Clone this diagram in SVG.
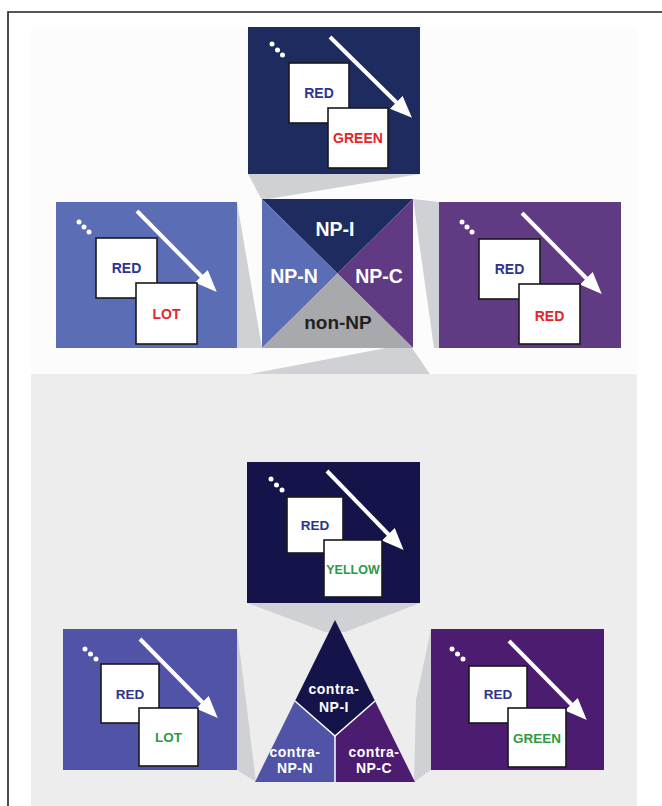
<svg xmlns="http://www.w3.org/2000/svg" width="662" height="806" viewBox="0 0 662 806">
<style>
.card{fill:#fff;stroke:#1a1a1a;stroke-width:1.6}
.w1{font-family:"Liberation Sans",Arial,sans-serif;font-weight:bold;font-size:14px;fill:#2b3590;text-anchor:middle}
.w2r{font-family:"Liberation Sans",Arial,sans-serif;font-weight:bold;font-size:14px;fill:#e3262b;text-anchor:middle}
.w2g{font-family:"Liberation Sans",Arial,sans-serif;font-weight:bold;font-size:13.5px;fill:#2e9a42;text-anchor:middle}
.arr{stroke:#fff;stroke-width:4;fill:none;marker-end:url(#ah)}
.dot{fill:#fff}
.lab{font-family:"Liberation Sans",Arial,sans-serif;font-weight:bold;font-size:19.5px;fill:#fff;text-anchor:middle}
.tlab{font-family:"Liberation Sans",Arial,sans-serif;font-weight:bold;font-size:14px;fill:#fff;text-anchor:middle;letter-spacing:0.5px}
.beam{fill:#d0d1d5}
</style>
<defs>
<marker id="ah" markerUnits="userSpaceOnUse" markerWidth="24" markerHeight="20" refX="1" refY="9" orient="auto">
<path d="M0,0 L22,9 L0,18 z" fill="#fff"/>
</marker>
</defs>
<rect x="0" y="0" width="662" height="806" fill="#fff"/>
<rect x="31" y="27" width="606" height="347" fill="#fcfcfc"/>
<rect x="31" y="374" width="606" height="432" fill="#ededed"/>
<path d="M8,806 L8,12 L662,12" fill="none" stroke="#231f20" stroke-width="1.6"/>

<g id="connectors">
<polygon class="beam" points="248,174 420,174 262,200"/>
<polygon class="beam" points="237,202 237,348 262,348"/>
<polygon class="beam" points="413,199 439,202 439,348 434,348"/>
<polygon class="beam" points="250,374 430,374 412,348 386,348"/>
<polygon class="beam" points="247,603 420,603 345,632 325,632"/>
<polygon class="beam" points="237,629 256,782 237,770"/>
<polygon class="beam" points="431,629 431,770 414,782 416,700"/>
</g>

<g id="panel-np-i">
<rect x="248" y="27" width="172" height="147" fill="#1d2b5f"/>
<circle class="dot" cx="272" cy="44" r="2.5"/><circle class="dot" cx="277.5" cy="50" r="2.5"/><circle class="dot" cx="282.5" cy="55" r="2.5"/>
<line class="arr" x1="330" y1="37" x2="397" y2="103"/>
<rect class="card" x="289" y="63" width="60" height="60"/>
<rect class="card" x="328" y="108" width="60" height="60"/>
<text class="w1" x="319" y="98">RED</text>
<text class="w2r" x="358" y="143">GREEN</text>
</g>

<g id="panel-np-n">
<rect x="56" y="202" width="181" height="146" fill="#5b6db4"/>
<circle class="dot" cx="79" cy="222" r="2.5"/><circle class="dot" cx="84" cy="227" r="2.5"/><circle class="dot" cx="89" cy="232" r="2.5"/>
<line class="arr" x1="137" y1="211" x2="202" y2="277"/>
<rect class="card" x="96" y="238" width="61" height="60"/>
<rect class="card" x="136" y="283" width="61" height="61"/>
<text class="w1" x="126.5" y="273">RED</text>
<text class="w2r" x="166.5" y="319">LOT</text>
</g>

<g id="panel-np-c">
<rect x="439" y="202" width="182" height="146" fill="#613a84"/>
<circle class="dot" cx="462" cy="222" r="2.5"/><circle class="dot" cx="467" cy="227" r="2.5"/><circle class="dot" cx="472" cy="232" r="2.5"/>
<line class="arr" x1="522" y1="213" x2="587" y2="279"/>
<rect class="card" x="479" y="239" width="61" height="60"/>
<rect class="card" x="519" y="284" width="61" height="60"/>
<text class="w1" x="509.5" y="274">RED</text>
<text class="w2r" x="549.5" y="321">RED</text>
</g>

<g id="np-square">
<polygon points="262,199 413,199 337.5,273.5" fill="#1d2b5f"/>
<polygon points="262,199 337.5,273.5 262,348" fill="#5b6db4"/>
<polygon points="413,199 413,348 337.5,273.5" fill="#613a84"/>
<polygon points="262,348 337.5,273.5 413,348" fill="#a7a9ac"/>
<text class="lab" x="335" y="236">NP-I</text>
<text class="lab" x="294" y="283">NP-N</text>
<text class="lab" x="379" y="283">NP-C</text>
<text class="lab" x="338" y="329" style="fill:#231f20;font-size:19px">non-NP</text>
</g>

<g id="panel-contra-np-i">
<rect x="247" y="462" width="173" height="141" fill="#15144a"/>
<circle class="dot" cx="271" cy="479" r="2.5"/><circle class="dot" cx="276.5" cy="485" r="2.5"/><circle class="dot" cx="282" cy="490" r="2.5"/>
<line class="arr" x1="327" y1="471" x2="389" y2="535"/>
<rect class="card" x="287" y="497" width="56" height="56"/>
<rect class="card" x="324" y="540" width="58" height="57"/>
<text class="w1" x="315" y="530" style="font-size:13.5px">RED</text>
<text class="w2g" x="353" y="574" style="font-size:12.5px">YELLOW</text>
</g>

<g id="panel-contra-np-n">
<rect x="63" y="629" width="174" height="141" fill="#5153a6"/>
<circle class="dot" cx="85" cy="649" r="2.5"/><circle class="dot" cx="90.5" cy="654" r="2.5"/><circle class="dot" cx="96" cy="659" r="2.5"/>
<line class="arr" x1="140" y1="639" x2="203" y2="703"/>
<rect class="card" x="101" y="664" width="58" height="59"/>
<rect class="card" x="139" y="708" width="59" height="58"/>
<text class="w1" x="130" y="699" style="font-size:13.5px">RED</text>
<text class="w2g" x="168.5" y="742">LOT</text>
</g>

<g id="panel-contra-np-c">
<rect x="431" y="629" width="173" height="141" fill="#4b1c6f"/>
<circle class="dot" cx="452" cy="649" r="2.5"/><circle class="dot" cx="457.5" cy="654" r="2.5"/><circle class="dot" cx="463" cy="659" r="2.5"/>
<line class="arr" x1="509" y1="641" x2="572" y2="705"/>
<rect class="card" x="469" y="666" width="58" height="57"/>
<rect class="card" x="508" y="708" width="58" height="59"/>
<text class="w1" x="498" y="699" style="font-size:13.5px">RED</text>
<text class="w2g" x="537" y="743">GREEN</text>
</g>

<g id="contra-triangle">
<polygon points="335,620 375,701 335,736 295,701" fill="#15144a"/>
<polygon points="295,701 335,736 335,782 255,782" fill="#5153a6"/>
<polygon points="375,701 415,782 335,782 335,736" fill="#4b1c6f"/>
<polyline points="295,701 335,736 375,701" fill="none" stroke="#fff" stroke-width="1.5"/>
<line x1="335" y1="736" x2="335" y2="782" stroke="#fff" stroke-width="1.5"/>
<text class="tlab" x="334" y="694">contra-</text>
<text class="tlab" x="334" y="712">NP-I</text>
<text class="tlab" x="295" y="757">contra-</text>
<text class="tlab" x="295" y="773">NP-N</text>
<text class="tlab" x="374" y="757">contra-</text>
<text class="tlab" x="374" y="773">NP-C</text>
</g>
</svg>
